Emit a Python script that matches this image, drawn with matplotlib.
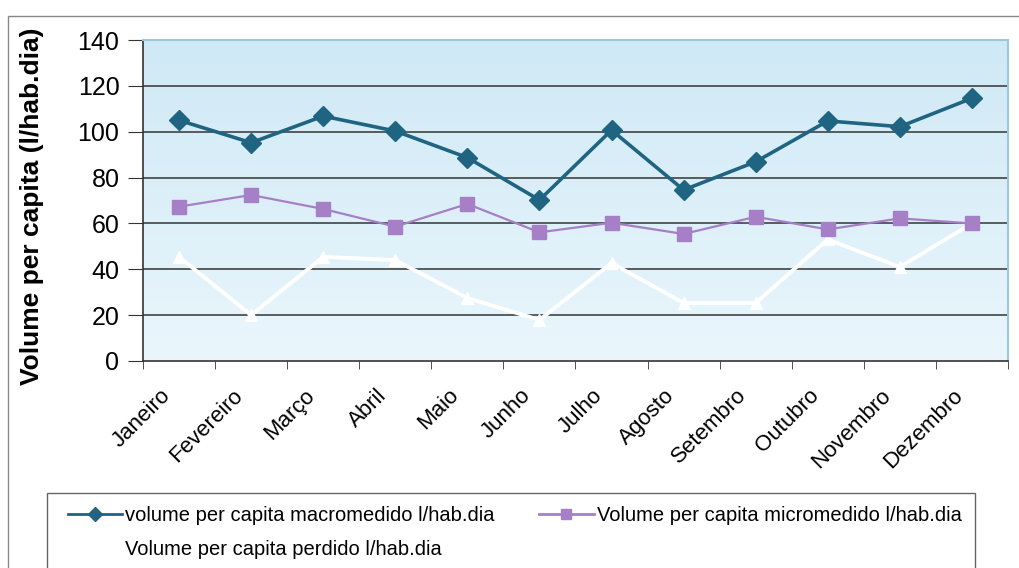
import numpy as np
import matplotlib
matplotlib.use("Agg")
import matplotlib.pyplot as plt
import matplotlib.transforms as mtransforms
from matplotlib.patches import Rectangle
from matplotlib.lines import Line2D

plt.rcParams['font.family'] = ['Liberation Sans', 'DejaVu Sans']

meses = ['Janeiro', 'Fevereiro', 'Março', 'Abril', 'Maio', 'Junho', 'Julho',
         'Agosto', 'Setembro', 'Outubro', 'Novembro', 'Dezembro']
macro = [105, 95.2, 106.8, 100.3, 88.7, 70.2, 100.7, 74.6, 86.9, 104.7, 102.2, 114.6]
micro = [67.3, 72.4, 66.3, 58.6, 68.5, 56.1, 60.3, 55.4, 62.9, 57.4, 62.2, 60]
perdido = [45.4, 20, 45.4, 44, 27.5, 17.9, 42.7, 25.3, 25.3, 53, 41, 60]

lbl_macro = 'volume per capita macromedido l/hab.dia'
lbl_micro = 'Volume per capita micromedido l/hab.dia'
lbl_perd = 'Volume per capita perdido l/hab.dia'

c_macro = '#1f6582'
c_micro = '#a77fc6'

fig = plt.figure(figsize=(10.2, 5.68), dpi=100)
# outer frame of the chart area
fig.patches.append(Rectangle((8/1020, -0.1), 1.2, 1 - 16/568 + 0.1, transform=fig.transFigure,
                             fill=False, edgecolor='#888888', lw=1.0))

ax = fig.add_axes([143/1020, 1 - 361/568, 865/1020, 321/568])
x = np.arange(len(meses))
ax.set_xlim(-0.5, len(meses) - 0.5)
ax.set_ylim(0, 140)

# light blue gradient background
grad = np.linspace(0, 1, 256).reshape(-1, 1)
cmap = matplotlib.colors.LinearSegmentedColormap.from_list('bg', ['#eaf6fc', '#cfe9f6'])
ax.imshow(grad, aspect='auto', cmap=cmap, origin='lower',
          extent=[-0.5, len(meses) - 0.5, 0, 140], zorder=0)

ax.set_yticks(np.arange(0, 141, 20))
for yv in np.arange(20, 141, 20):
    ax.axhline(yv, color='#333333', lw=1.1, zorder=1)

ax.plot(x, perdido, color='white', lw=2.8, marker='^', ms=9, mfc='white', mec='white', zorder=3)
ax.plot(x, micro, color=c_micro, lw=1.6, marker='s', ms=10.5, mfc=c_micro, mec=c_micro, zorder=4)
ax.plot(x, macro, color=c_macro, lw=2.6, marker='D', ms=10, mfc=c_macro, mec=c_macro, zorder=5)

ax.set_xticks(x)
ax.set_xticklabels(meses, rotation=45, ha='right', va='center', rotation_mode='anchor', fontsize=16)
ax.tick_params(axis='x', length=0, pad=11)
shift = mtransforms.ScaledTranslation(-0.12, -0.16, fig.dpi_scale_trans)
for lab in ax.get_xticklabels():
    lab.set_transform(lab.get_transform() + shift)
ax.set_xticks(np.arange(-0.5, len(meses), 1), minor=True)
ax.tick_params(axis='x', which='minor', length=6, color='#333333')
ax.tick_params(axis='y', length=11, labelsize=18, color='#333333', pad=6)

for s in ['left', 'bottom']:
    ax.spines[s].set_color('#333333')
    ax.spines[s].set_linewidth(1.2)
for s in ['top', 'right']:
    ax.spines[s].set_color('#9cc8dc')
    ax.spines[s].set_linewidth(1.5)

ax.set_ylabel('Volume per capita (l/hab.dia)', fontsize=19, fontweight='bold', va='center')
ax.yaxis.set_label_coords(-0.128, 0.483)

# legend box
fig.patches.append(Rectangle((47/1020, -0.1), 928/1020, 0.1 + 1 - 493/568, transform=fig.transFigure,
                             fill=False, edgecolor='#666666', lw=1.0))
handles = [
    Line2D([], [], color=c_macro, lw=2, marker='D', ms=7, mfc=c_macro, mec=c_macro),
    Line2D([], [], color='white', lw=2, marker='^', ms=7, mfc='white', mec='white'),
    Line2D([], [], color=c_micro, lw=2, marker='s', ms=7, mfc=c_micro, mec=c_micro),
]
fig.legend(handles, [lbl_macro, lbl_perd, lbl_micro], ncol=2, frameon=False,
           loc='upper left', bbox_to_anchor=(60/1020, 1 - 498/568), fontsize=14.5,
           handlelength=2.7, handletextpad=0.15, columnspacing=2.2, labelspacing=0.75,
           borderaxespad=0)

fig.savefig('out.png', dpi=100)
